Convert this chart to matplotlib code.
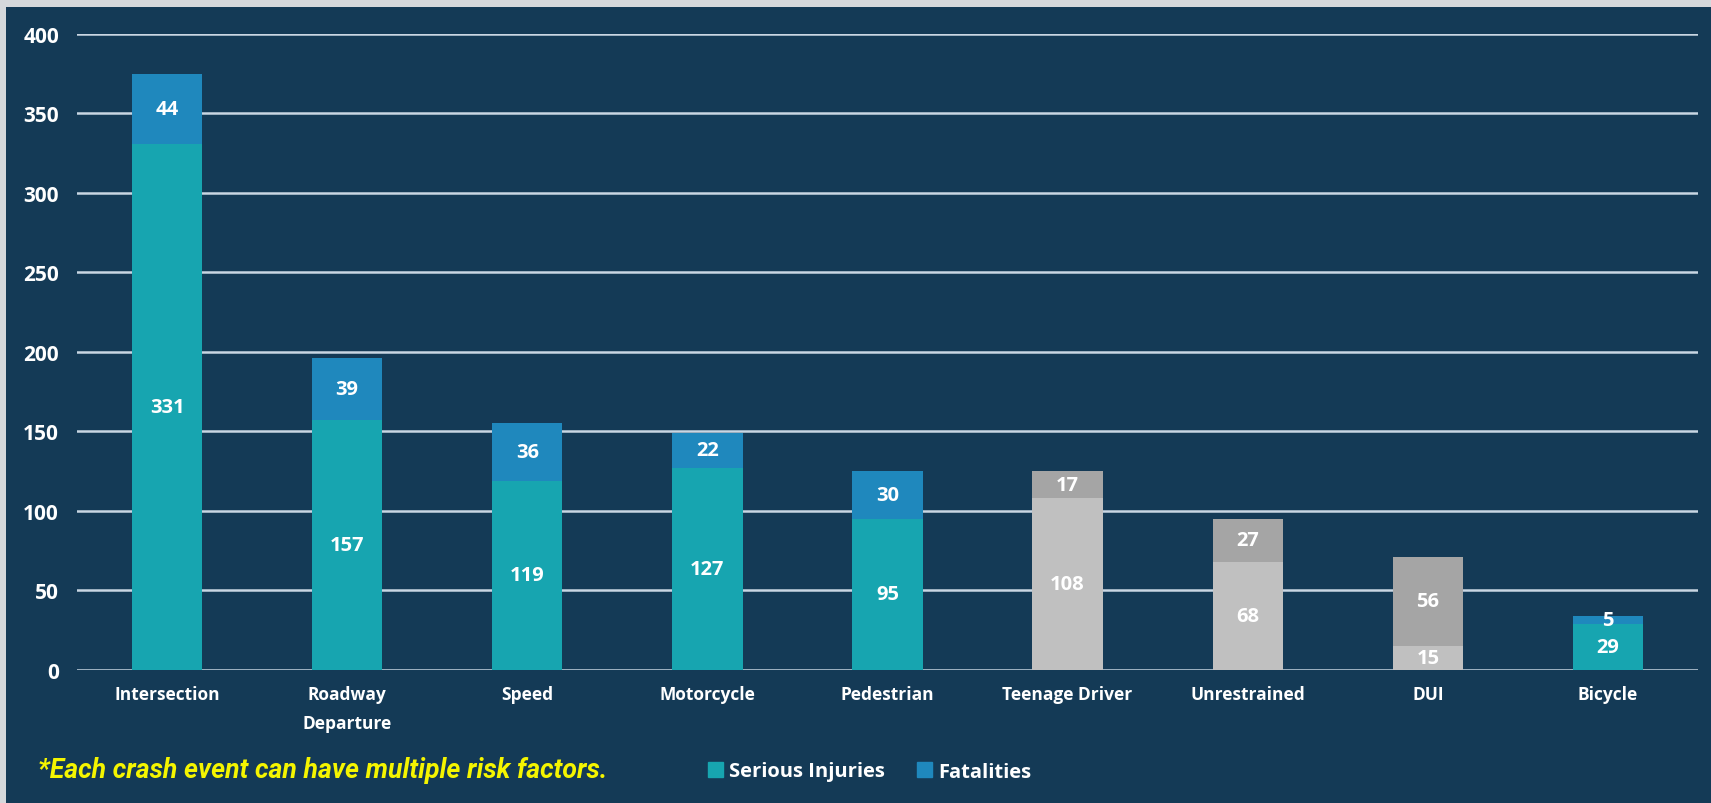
import matplotlib
matplotlib.use("Agg")
import matplotlib.pyplot as plt
from matplotlib.patches import Rectangle
import numpy as np

# ---- 数据 ----
categories = ["Intersection", "Roadway\nDeparture", "Speed", "Motorcycle", "Pedestrian",
              "Teenage Driver", "Unrestrained", "DUI", "Bicycle"]
serious = [331, 157, 119, 127, 95, 108, 68, 15, 29]
fatal = [44, 39, 36, 22, 30, 17, 27, 56, 5]
gray_cats = ["Teenage Driver", "Unrestrained", "DUI"]

NAVY = "#143a56"
TEAL = "#17a5b0"
BLUE = "#1f88bd"
LGRAY = "#c0c0c0"
DGRAY = "#a5a5a5"
GRID = "#c9d6e3"

plt.rcParams["font.family"] = ["Open Sans", "DejaVu Sans"]

fig = plt.figure(figsize=(17.11, 8.04), dpi=100, facecolor="#d5d8db")
fig.patches.append(Rectangle((6 / 1711, 0), 1, 1 - 8 / 804, transform=fig.transFigure,
                             facecolor=NAVY, edgecolor="none", zorder=-10))
ax = fig.add_axes([77 / 1711, 1 - 670.7 / 804, (1698 - 77) / 1711, (670.7 - 35) / 804])
ax.set_facecolor(NAVY)

x = np.arange(len(categories))
c_low = [LGRAY if c in gray_cats else TEAL for c in categories]
c_top = [DGRAY if c in gray_cats else BLUE for c in categories]
b1 = ax.bar(x, serious, width=0.39, color=c_low, zorder=3, label="Serious Injuries")
b2 = ax.bar(x, fatal, width=0.39, bottom=serious, color=c_top, zorder=3, label="Fatalities")

for i in range(len(categories)):
    ax.text(x[i], serious[i] / 2, str(serious[i]), ha="center", va="center",
            color="white", fontsize=14.5, fontweight="bold", zorder=4)
    ax.text(x[i], serious[i] + fatal[i] / 2, str(fatal[i]), ha="center", va="center",
            color="white", fontsize=14.5, fontweight="bold", zorder=4)

ax.set_xlim(-0.5, 8.5)
ax.set_ylim(0, 400)
ax.set_yticks(range(0, 401, 50))
ax.yaxis.grid(True, color=GRID, linewidth=1.8, zorder=1)
ax.set_axisbelow(True)
for s in ax.spines.values():
    s.set_visible(False)
ax.tick_params(axis="both", length=0, colors="white")
ax.tick_params(axis="y", pad=13, labelsize=15)
ax.tick_params(axis="x", pad=11, labelsize=12.5)
ax.set_xticks(x)
ax.set_xticklabels(categories, fontweight="bold", linespacing=1.8)
for t in ax.get_yticklabels():
    t.set_fontweight("bold")

fig.text(38 / 1711, 1 - 771 / 804, "*Each crash event can have multiple risk factors.",
         color="#f5f500", fontsize=19.2, fontweight="bold", style="italic",
         family=["Roboto", "DejaVu Sans"], va="center", ha="left")

leg = ax.legend(handles=[Rectangle((0, 0), 1, 1, color=TEAL), Rectangle((0, 0), 1, 1, color=BLUE)],
                labels=["Serious Injuries", "Fatalities"], ncol=2, frameon=False,
                loc="center left", bbox_to_anchor=((708 - 77) / (1698 - 77), (670.7 - 772.5) / (670.7 - 35)),
                handlelength=0.75, handleheight=0.75, handletextpad=0.3, columnspacing=1.6,
                borderpad=0, borderaxespad=0,
                prop={"weight": "bold", "size": 14.5})
for t in leg.get_texts():
    t.set_color("white")

fig.savefig("out.png", dpi=100, facecolor=fig.get_facecolor())
